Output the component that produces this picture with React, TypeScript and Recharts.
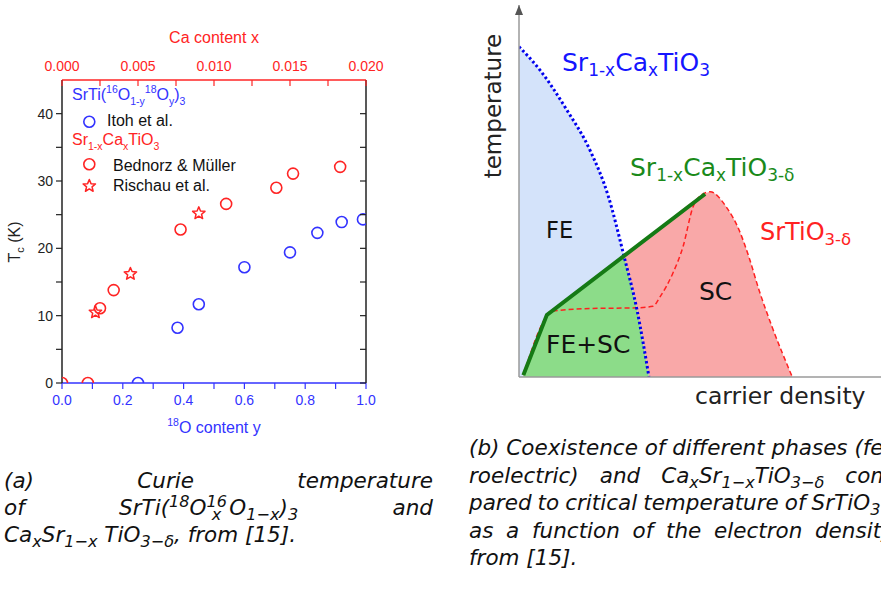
import React from "react";
import {
  ScatterChart, Scatter, XAxis, YAxis, ComposedChart, Area, Line, ReferenceDot,
} from "recharts";

// ---- panel (a): Tc vs isotope / Ca content ----
const itohY = [0.25, 0.38, 0.45, 0.6, 0.75, 0.84, 0.92, 0.99];
const itohTc = [0, 8.2, 11.7, 17.2, 19.4, 22.3, 23.9, 24.3];
const bednorzX = [0, 0.0017, 0.0025, 0.0034, 0.0078, 0.0108, 0.0141, 0.0152, 0.0183];
const bednorzTc = [0, 0, 11.1, 13.8, 22.8, 26.6, 29.0, 31.1, 32.1];
const rischauX = [0.0022, 0.0045, 0.009];
const rischauTc = [10.5, 16.2, 25.2];

const o18Ticks = [0, 0.1, 0.2, 0.3, 0.4, 0.5, 0.6, 0.7, 0.8, 0.9, 1.0];
const caTicks = [0, 0.0025, 0.005, 0.0075, 0.01, 0.0125, 0.015, 0.0175, 0.02];
const tcTicks = [0, 5, 10, 15, 20, 25, 30, 35, 40];

// ---- panel (b): schematic phase diagram (arbitrary units, 0..100) ----
const feDensity = [0, 5.8, 13.2, 19.6, 24.7, 29, 32.6, 35.9];
const feTemp = [88.8, 82.5, 71.8, 61, 48.5, 32.5, 18, 0];
const feScDensity = [1.2, 7.7, 29, 32.6, 35.9];
const feScTemp = [0.5, 16.7, 32.5, 18, 0];
const caLineDensity = [1.2, 7.7, 51.4];
const caLineTemp = [0.5, 16.7, 49.2];
const scDensity = [29, 35.9, 51.4, 52.8, 57.2, 60.8, 63.5, 66.3, 69.9, 75.5];
const scTemp = [32.5, 37.6, 49.2, 49.8, 45.8, 39.5, 32.3, 23.4, 13.5, 0];
const domeDensity = [1.2, 7.7, 8.6, 19.6, 32.5, 37, 39, 42.5, 45.3, 48.1, 50.5, 52.8, 57.2, 60.8, 63.5, 66.3, 69.9, 75.5];
const domeTemp = [0.5, 16.5, 17.6, 18.4, 18.6, 19, 21.6, 27.9, 35, 45.8, 49, 49.8, 45.8, 39.5, 32.3, 23.4, 13.5, 0];

const BLUE = "#3333ff";
const RED = "#ff2424";
const ARIAL = '"Liberation Sans", Arial, sans-serif';
const DEJAVU = '"DejaVu Sans", Verdana, sans-serif';

const itohData = itohY.map((x, i) => ({ x, t: itohTc[i] }));
const bednorzData = bednorzX.map((x, i) => ({ x, t: bednorzTc[i] }));
const rischauData = rischauX.map((x, i) => ({ x, t: rischauTc[i] }));

const rowMap = new Map<number, any>();
const put = (ds: number[], ts: number[], key: string) =>
  ds.forEach((d, i) => {
    const r = rowMap.get(d) ?? { d };
    r[key] = ts[i];
    rowMap.set(d, r);
  });
put(feDensity, feTemp, "fe");
put(feScDensity, feScTemp, "feSc");
put(caLineDensity, caLineTemp, "caLine");
put(scDensity, scTemp, "sc");
put(domeDensity, domeTemp, "dome");
const phaseRows = [...rowMap.values()].sort((a, b) => a.d - b.d);

function starPath(cx: number, cy: number, ro: number, ri: number) {
  let d = "";
  for (let k = 0; k < 10; k++) {
    const r = k % 2 === 0 ? ro : ri;
    const a = -Math.PI / 2 + (k * Math.PI) / 5;
    d += (k === 0 ? "M" : "L") + (cx + r * Math.cos(a)).toFixed(2) + "," + (cy + r * Math.sin(a)).toFixed(2);
  }
  return d + "Z";
}

const ring = (color: string) => (p: any) =>
  <circle cx={p.cx} cy={p.cy} r={5.5} fill="none" stroke={color} strokeWidth={1.6} />;
const star = (p: any) =>
  <path d={starPath(p.cx, p.cy, 6.5, 2.9)} fill="none" stroke={RED} strokeWidth={1.5} strokeLinejoin="round" />;

function BottomTick(p: any) {
  const v = p.payload.value;
  const major = Math.round(v * 10) % 2 === 0;
  return (
    <g>
      <line x1={p.x} x2={p.x} y1={p.y} y2={p.y + 6} stroke={BLUE} strokeWidth={1.2} />
      {major && <text x={p.x} y={p.y + 22} textAnchor="middle" fill={BLUE} fontSize={14} fontFamily={ARIAL}>{v.toFixed(1)}</text>}
    </g>
  );
}
function TopTick(p: any) {
  const v = p.payload.value;
  const major = Math.round(v * 10000) % 50 === 0;
  return (
    <g>
      <line x1={p.x} x2={p.x} y1={p.y} y2={p.y + 6} stroke={RED} strokeWidth={1.2} />
      {major && <text x={p.x} y={p.y - 9} textAnchor="middle" fill={RED} fontSize={14} fontFamily={ARIAL}>{v.toFixed(3)}</text>}
    </g>
  );
}
function LeftTick(p: any) {
  const v = p.payload.value;
  const major = v % 10 === 0;
  return (
    <g>
      <line x1={p.x - 6} x2={p.x} y1={p.y} y2={p.y} stroke="#222" strokeWidth={1.2} />
      {major && <text x={p.x - 9} y={p.y + 5} textAnchor="end" fill="#222" fontSize={14} fontFamily={ARIAL}>{v}</text>}
    </g>
  );
}
function RightTick(p: any) {
  return <line x1={p.x - 6} x2={p.x} y1={p.y} y2={p.y} stroke="#222" strokeWidth={1.2} />;
}

type Part = [string, "n" | "sub" | "sup"];
function Rich(props: {
  x: number; y: number; parts: Part[]; size: number; small: number; subDy: number; supDy?: number;
  fill: string; family: string; anchor?: "start" | "middle" | "end"; transform?: string;
}) {
  let cur = 0;
  return (
    <text x={props.x} y={props.y} fontSize={props.size} fill={props.fill} fontFamily={props.family}
      textAnchor={props.anchor ?? "start"} transform={props.transform}>
      {props.parts.map(([t, k], i) => {
        const target = k === "sub" ? props.subDy : k === "sup" ? -(props.supDy ?? 0) : 0;
        const dy = target - cur;
        cur = target;
        return <tspan key={i} dy={dy} fontSize={k === "n" ? props.size : props.small}>{t}</tspan>;
      })}
    </text>
  );
}

const sub = (t: string) => <sub style={{ fontSize: "0.75em", lineHeight: 0 }}>{t}</sub>;
const sup = (t: string) => <sup style={{ fontSize: "0.75em", lineHeight: 0 }}>{t}</sup>;
const lineStyle: React.CSSProperties = {
  display: "flex", justifyContent: "space-between", columnGap: "0.28em", height: 27, lineHeight: "27px", whiteSpace: "nowrap",
};
const lineB: React.CSSProperties = { ...lineStyle, height: 27.5, lineHeight: "27.5px" };

export default function App() {
  return (
    <div style={{ position: "absolute", left: 0, top: 0, width: 881, height: 590, overflow: "hidden", background: "#fff" }}>
      <div style={{ position: "absolute", left: 0, top: 0 }}>
        <ScatterChart width={440} height={450} margin={{ top: 20, right: 0, bottom: 4, left: 0 }}>
          <XAxis xAxisId="o18" type="number" dataKey="x" domain={[0, 1]} ticks={o18Ticks} interval={0}
            allowDataOverflow height={63} tickSize={0} tickMargin={0} tickLine={false}
            tick={(p: any) => <BottomTick {...p} />} axisLine={{ stroke: BLUE, strokeWidth: 1.5 }} />
          <XAxis xAxisId="ca" orientation="top" type="number" dataKey="x" domain={[0, 0.02]} ticks={caTicks} interval={0}
            allowDataOverflow height={60} tickSize={0} tickMargin={0} tickLine={false}
            tick={(p: any) => <TopTick {...p} />} axisLine={{ stroke: RED, strokeWidth: 1.5 }} />
          <YAxis yAxisId="tc" type="number" dataKey="t" domain={[0, 45]} ticks={tcTicks} interval={0}
            allowDataOverflow width={62} tickSize={0} tickMargin={0} tickLine={false}
            tick={(p: any) => <LeftTick {...p} />} axisLine={{ stroke: "#222", strokeWidth: 1.5 }} />
          <YAxis yAxisId="tcR" orientation="right" type="number" domain={[0, 45]} ticks={tcTicks} interval={0}
            allowDataOverflow width={74} tickSize={0} tickMargin={0} tickLine={false}
            tick={(p: any) => <RightTick {...p} />} axisLine={{ stroke: "#222", strokeWidth: 1.5 }} />
          <Scatter xAxisId="o18" yAxisId="tc" data={itohData} dataKey="t" shape={ring(BLUE)} isAnimationActive={false} />
          <Scatter xAxisId="ca" yAxisId="tc" data={bednorzData} dataKey="t" shape={ring(RED)} isAnimationActive={false} />
          <Scatter xAxisId="ca" yAxisId="tc" data={rischauData} dataKey="t" shape={star} isAnimationActive={false} />
        </ScatterChart>
      </div>

      <div style={{ position: "absolute", left: 440, top: 0 }}>
        <ComposedChart width={441} height={430} data={phaseRows} margin={{ top: 5, right: 0, bottom: 0, left: 0 }}>
          <XAxis dataKey="d" type="number" domain={[0, 100]} allowDataOverflow height={53} tick={false} tickLine={false}
            axisLine={{ stroke: "#9a9a9a", strokeWidth: 1.5 }} />
          <YAxis type="number" domain={[0, 100]} allowDataOverflow width={79} tick={false} tickLine={false}
            axisLine={{ stroke: "#9a9a9a", strokeWidth: 1.5 }} />
          <Area dataKey="sc" type="monotone" fill="#f9a8a8" fillOpacity={1} stroke="none" connectNulls dot={false} activeDot={false} isAnimationActive={false} />
          <Area dataKey="fe" type="monotone" fill="#d4e3fa" fillOpacity={1} stroke="none" connectNulls dot={false} activeDot={false} isAnimationActive={false} />
          <Area dataKey="feSc" type="linear" fill="#8cdc89" fillOpacity={1} stroke="none" connectNulls dot={false} activeDot={false} isAnimationActive={false} />
          <Line dataKey="dome" type="monotone" stroke="#ff2020" strokeWidth={1.5} strokeDasharray="5 3" connectNulls dot={false} activeDot={false} isAnimationActive={false} />
          <Line dataKey="fe" type="monotone" stroke="#0000ee" strokeWidth={3} strokeDasharray="2.5 2.5" connectNulls dot={false} activeDot={false} isAnimationActive={false} />
          <Line dataKey="caLine" type="linear" stroke="#157a15" strokeWidth={4} connectNulls dot={false} activeDot={false} isAnimationActive={false} />
          <ReferenceDot x={0} y={100} r={0} ifOverflow="visible"
            shape={(p: any) => <path d={`M${p.cx},${p.cy} L${p.cx - 4},${p.cy + 10} L${p.cx + 4},${p.cy + 10} Z`} fill="#555" />} />
        </ComposedChart>
      </div>

      <svg width={881} height={590} style={{ position: "absolute", left: 0, top: 0, pointerEvents: "none" }}>
        {/* panel (a) labels */}
        <text x={214} y={43} textAnchor="middle" fill={RED} fontSize={16} fontFamily={ARIAL}>Ca content x</text>
        <Rich x={214} y={433} anchor="middle" fill={BLUE} size={16} small={10.5} subDy={5} supDy={7} family={ARIAL}
          parts={[["18", "sup"], ["O content y", "n"]]} />
        <Rich x={20} y={242} anchor="middle" fill="#222" size={16} small={11} subDy={4} family={ARIAL}
          transform="rotate(-90, 20, 242)" parts={[["T", "n"], ["c", "sub"], [" (K)", "n"]]} />
        <Rich x={72} y={100} fill={BLUE} size={16} small={10.5} subDy={5} supDy={7} family={ARIAL}
          parts={[["SrTi(", "n"], ["16", "sup"], ["O", "n"], ["1-y", "sub"], ["18", "sup"], ["O", "n"], ["y", "sub"], [")", "n"], ["3", "sub"]]} />
        <circle cx={89.3} cy={121.7} r={5.5} fill="none" stroke={BLUE} strokeWidth={1.6} />
        <text x={107} y={126} fill="#111" fontSize={16} fontFamily={ARIAL}>Itoh et al.</text>
        <Rich x={72} y={145} fill={RED} size={16} small={10.5} subDy={5} family={ARIAL}
          parts={[["Sr", "n"], ["1-x", "sub"], ["Ca", "n"], ["x", "sub"], ["TiO", "n"], ["3", "sub"]]} />
        <circle cx={89.3} cy={164.3} r={5.5} fill="none" stroke={RED} strokeWidth={1.6} />
        <text x={113} y={170.5} fill="#111" fontSize={16} fontFamily={ARIAL}>Bednorz &amp; Müller</text>
        <path d={starPath(89.3, 186, 6.5, 2.9)} fill="none" stroke={RED} strokeWidth={1.5} strokeLinejoin="round" />
        <text x={113} y={191} fill="#111" fontSize={16} fontFamily={ARIAL}>Rischau et al.</text>

        {/* panel (b) labels */}
        <text x={501} y={106} textAnchor="middle" transform="rotate(-90, 501, 106)" fill="#222" fontSize={23} fontFamily={DEJAVU}>temperature</text>
        <text x={695} y={404} fill="#222" fontSize={23.5} fontFamily={DEJAVU}>carrier density</text>
        <text x={546} y={238} fill="#111" fontSize={22.5} fontFamily={DEJAVU}>FE</text>
        <text x={699} y={300} fill="#111" fontSize={25} fontFamily={DEJAVU}>SC</text>
        <text x={546} y={353} fill="#111" fontSize={25} fontFamily={DEJAVU}>FE+SC</text>
        <Rich x={562} y={71} fill="#1515ff" size={25} small={17} subDy={5} family={DEJAVU}
          parts={[["Sr", "n"], ["1-x", "sub"], ["Ca", "n"], ["x", "sub"], ["TiO", "n"], ["3", "sub"]]} />
        <Rich x={630} y={176} fill="#1a8a1a" size={25} small={17} subDy={5} family={DEJAVU}
          parts={[["Sr", "n"], ["1-x", "sub"], ["Ca", "n"], ["x", "sub"], ["TiO", "n"], ["3-δ", "sub"]]} />
        <Rich x={760} y={240} fill="#ff2222" size={24} small={16.5} subDy={5} family={DEJAVU}
          parts={[["SrTiO", "n"], ["3-δ", "sub"]]} />
      </svg>

      {/* captions */}
      <div style={{ position: "absolute", left: 4, top: 467, width: 429, fontFamily: DEJAVU, fontStyle: "italic", fontSize: 21.5, color: "#111" }}>
        <div style={lineStyle}><span>(a)</span><span>Curie</span><span>temperature</span></div>
        <div style={lineStyle}>
          <span>of</span>
          <span>SrTi({sup("18")}O{sup("16")}<sub style={{ fontSize: "0.75em", lineHeight: 0, marginLeft: "-0.95em", marginRight: "0.5em" }}>x</sub>O{sub("1−x")}){sub("3")}</span>
          <span>and</span>
        </div>
        <div style={{ height: 27, lineHeight: "27px", whiteSpace: "nowrap" }}>
          Ca{sub("x")}Sr{sub("1−x")} TiO{sub("3−δ")}, from [15].
        </div>
      </div>
      <div style={{ position: "absolute", left: 469, top: 434, width: 430, fontFamily: DEJAVU, fontStyle: "italic", fontSize: 21.5, color: "#111" }}>
        <div style={lineB}>
          <span>(b)</span><span>Coexistence</span><span>of</span><span>different</span><span>phases</span><span>(fer-</span>
        </div>
        <div style={lineB}>
          <span>roelectric)</span><span>and</span><span>Ca{sub("x")}Sr{sub("1−x")}TiO{sub("3−δ")}</span><span>com-</span>
        </div>
        <div style={lineB}>
          <span>pared</span><span>to</span><span>critical</span><span>temperature</span><span>of</span><span>SrTiO{sub("3−δ")}</span>
        </div>
        <div style={lineB}>
          <span>as</span><span>a</span><span>function</span><span>of</span><span>the</span><span>electron</span><span>density,</span>
        </div>
        <div style={{ height: 27.5, lineHeight: "27.5px", whiteSpace: "nowrap" }}>from [15].</div>
      </div>
    </div>
  );
}
